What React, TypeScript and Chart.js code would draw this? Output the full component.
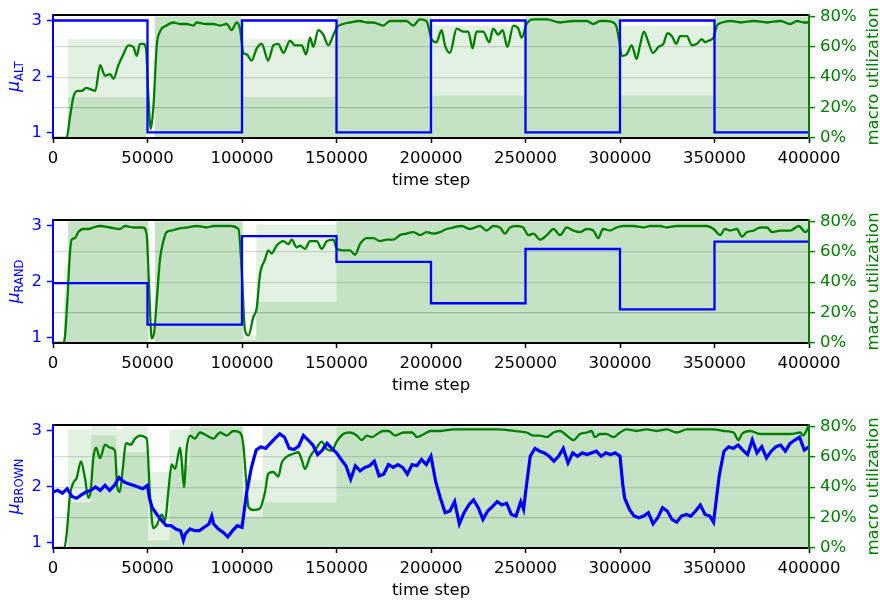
import React, { useEffect, useRef } from 'react';
import { Chart, registerables } from 'chart.js';

Chart.register(...registerables);

// ---------- tick labels ----------
const X_TICKS = [0, 50000, 100000, 150000, 200000, 250000, 300000, 350000, 400000];
const MU_TICKS = [1, 2, 3];
const UTIL_TICKS = [0, 0.2, 0.4, 0.6, 0.8];

// ---------- mu step series (one value per 50000-step segment) ----------
const SEGMENT_STARTS = [0, 50000, 100000, 150000, 200000, 250000, 300000, 350000];
const muAlt = [3, 1, 3, 1, 3, 1, 3, 1];
const muRand = [1.97, 1.23, 2.81, 2.35, 1.61, 2.58, 1.5, 2.71];

// ---------- mu brownian series [time step, mu] ----------
const muBrown: [number, number][] = [
  [0, 1.9], [2500, 1.93], [5000, 1.88], [7500, 1.96], [10000, 1.82], [12500, 1.79], [15000, 1.85], [17500, 1.9],
  [20000, 1.93], [22500, 1.99], [25000, 1.93], [27500, 2.02], [30000, 1.93], [32500, 2.02], [35000, 2.16], [37500, 2.08],
  [40000, 2.05], [42500, 2.02], [45000, 1.99], [47500, 1.96], [50000, 2.02], [51000, 1.79], [52500, 1.62], [55000, 1.5],
  [57500, 1.39], [60000, 1.3], [62500, 1.3], [65000, 1.24], [67500, 1.21], [69000, 1.04], [70000, 1.15], [72500, 1.24],
  [75000, 1.21], [77500, 1.21], [80000, 1.27], [82500, 1.33], [84000, 1.47], [85000, 1.33], [87500, 1.24], [90000, 1.18],
  [92500, 1.1], [95000, 1.21], [97500, 1.3], [100000, 1.27], [102500, 1.9], [105000, 2.34], [107500, 2.65], [110000, 2.71],
  [112500, 2.68], [115000, 2.77], [117500, 2.86], [120000, 2.94], [122500, 2.88], [125000, 2.68], [127500, 2.66], [130000, 2.72],
  [132500, 2.91], [135000, 2.83], [137500, 2.74], [140000, 2.57], [142500, 2.65], [145000, 2.77], [147500, 2.68], [150000, 2.6],
  [152500, 2.48], [155000, 2.37], [157500, 2.13], [160000, 2.37], [162500, 2.28], [165000, 2.34], [167500, 2.37], [170000, 2.45],
  [172500, 2.19], [175000, 2.22], [177500, 2.39], [180000, 2.34], [182500, 2.39], [185000, 2.34], [187500, 2.22], [190000, 2.39],
  [192500, 2.37], [195000, 2.48], [197500, 2.39], [200000, 2.54], [202500, 2.08], [205000, 1.79], [207500, 1.53], [210000, 1.56],
  [212500, 1.73], [215000, 1.33], [217500, 1.53], [220000, 1.67], [222500, 1.76], [225000, 1.62], [227500, 1.41], [230000, 1.56],
  [232500, 1.64], [235000, 1.73], [237500, 1.67], [240000, 1.7], [242500, 1.5], [245000, 1.47], [247500, 1.73], [249000, 1.59],
  [250000, 1.88], [252500, 2.54], [255000, 2.68], [257500, 2.63], [260000, 2.6], [262500, 2.54], [265000, 2.45], [267500, 2.54],
  [270000, 2.68], [272500, 2.42], [275000, 2.6], [277500, 2.54], [280000, 2.6], [282500, 2.57], [285000, 2.6], [287500, 2.63],
  [290000, 2.54], [292500, 2.6], [295000, 2.57], [297500, 2.6], [300000, 2.54], [301500, 2.02], [302500, 1.79], [305000, 1.59],
  [307500, 1.47], [310000, 1.44], [312500, 1.47], [315000, 1.53], [317500, 1.33], [320000, 1.44], [322500, 1.62], [325000, 1.56],
  [327500, 1.41], [330000, 1.36], [332500, 1.47], [335000, 1.5], [337500, 1.47], [340000, 1.56], [342500, 1.67], [345000, 1.5],
  [347500, 1.47], [349500, 1.36], [350000, 1.5], [352500, 2.19], [355000, 2.63], [357500, 2.71], [360000, 2.68], [362500, 2.74],
  [365000, 2.65], [367500, 2.57], [370000, 2.83], [372500, 2.6], [375000, 2.71], [377500, 2.51], [380000, 2.63], [382500, 2.71],
  [385000, 2.74], [387500, 2.63], [390000, 2.77], [392500, 2.83], [395000, 2.88], [397500, 2.65], [400000, 2.71],
];

// ---------- smoothed macro utilization [time step, fraction] ----------
const utilAlt: [number, number][] = [
  [0, 0], [7200, 0], [9000, 0.14], [10800, 0.27], [12900, 0.31], [15200, 0.31], [17500, 0.33], [20000, 0.32],
  [22400, 0.31], [24900, 0.48], [27500, 0.41], [30200, 0.42], [32000, 0.39], [34600, 0.48], [37200, 0.55], [39900, 0.61],
  [42500, 0.6], [44300, 0.54], [46000, 0.62], [47800, 0.62], [49200, 0.59], [50400, 0.29], [51700, 0.06], [53100, 0.2],
  [54900, 0.61], [56600, 0.7], [60100, 0.74], [63700, 0.76], [67200, 0.75], [70700, 0.75], [74300, 0.74], [76000, 0.76],
  [81300, 0.75], [84800, 0.75], [88400, 0.74], [91900, 0.75], [94500, 0.71], [97200, 0.76], [98900, 0.72], [100700, 0.56],
  [102500, 0.55], [105100, 0.51], [107800, 0.59], [110400, 0.62], [113900, 0.51], [116600, 0.61], [119200, 0.62], [121900, 0.56],
  [125400, 0.64], [128000, 0.61], [131600, 0.61], [133900, 0.55], [136000, 0.66], [137700, 0.6], [140400, 0.71], [143000, 0.68],
  [145700, 0.61], [148400, 0.68], [150400, 0.73], [153600, 0.75], [157100, 0.76], [162400, 0.77], [166000, 0.76], [169500, 0.76],
  [174700, 0.74], [178300, 0.77], [183400, 0.77], [187000, 0.77], [190600, 0.74], [194100, 0.78], [197600, 0.77], [200300, 0.65],
  [202900, 0.63], [205600, 0.71], [207400, 0.61], [210000, 0.56], [213600, 0.72], [217100, 0.7], [219700, 0.7], [222000, 0.59],
  [224100, 0.7], [227600, 0.7], [230800, 0.63], [232900, 0.72], [235600, 0.68], [237900, 0.71], [240400, 0.6], [243600, 0.74],
  [246200, 0.72], [248000, 0.66], [250600, 0.75], [254200, 0.78], [261300, 0.78], [268300, 0.76], [275300, 0.77], [282400, 0.77],
  [285900, 0.75], [289400, 0.77], [292800, 0.77], [296500, 0.76], [298200, 0.73], [299700, 0.63], [300900, 0.54], [303500, 0.55],
  [306200, 0.61], [308800, 0.52], [310600, 0.61], [312700, 0.7], [315000, 0.63], [317400, 0.56], [320400, 0.6], [323000, 0.62],
  [325100, 0.69], [327500, 0.67], [329800, 0.62], [331800, 0.67], [335400, 0.67], [338000, 0.61], [340700, 0.62], [343300, 0.65],
  [345100, 0.63], [346800, 0.64], [349500, 0.66], [351300, 0.74], [354000, 0.76], [358400, 0.77], [363700, 0.76], [370700, 0.77],
  [377800, 0.76], [384800, 0.77], [390100, 0.75], [393700, 0.77], [397200, 0.76], [400000, 0.76],
];

const utilRand: [number, number][] = [
  [0, 0], [5500, 0], [6300, 0.04], [7600, 0.28], [9000, 0.6], [9900, 0.68], [11600, 0.69], [13400, 0.73],
  [16000, 0.75], [18700, 0.75], [21300, 0.76], [24900, 0.77], [30200, 0.76], [35400, 0.75], [38100, 0.77], [42500, 0.76],
  [47800, 0.76], [49600, 0.71], [50800, 0.38], [52200, 0.03], [53400, 0.06], [54900, 0.28], [56600, 0.55], [58400, 0.67],
  [60100, 0.73], [62800, 0.74], [65400, 0.75], [70700, 0.76], [76000, 0.77], [81300, 0.76], [84800, 0.77], [88400, 0.77],
  [93700, 0.77], [98100, 0.75], [99800, 0.49], [101600, 0.08], [103400, 0.05], [106000, 0.17], [107800, 0.23], [109500, 0.45],
  [112200, 0.55], [113900, 0.61], [115700, 0.59], [118300, 0.64], [121900, 0.67], [124500, 0.65], [126300, 0.68], [128900, 0.63],
  [130700, 0.64], [133300, 0.62], [136000, 0.67], [139500, 0.67], [142200, 0.62], [144800, 0.67], [148400, 0.68], [150100, 0.62],
  [153600, 0.61], [157100, 0.61], [159800, 0.58], [162400, 0.65], [166000, 0.69], [169500, 0.69], [173000, 0.67], [176600, 0.68],
  [180100, 0.68], [183600, 0.71], [187100, 0.72], [190600, 0.73], [194200, 0.71], [197700, 0.73], [201200, 0.72], [204800, 0.73],
  [208300, 0.75], [211800, 0.76], [216200, 0.77], [220600, 0.75], [225900, 0.77], [229400, 0.74], [232900, 0.77], [236500, 0.76],
  [239100, 0.72], [241800, 0.76], [245300, 0.77], [248800, 0.76], [251500, 0.71], [254200, 0.72], [257700, 0.68], [261300, 0.71],
  [264800, 0.75], [268300, 0.71], [271800, 0.76], [275400, 0.74], [278900, 0.73], [282400, 0.75], [285900, 0.74], [288500, 0.69],
  [291000, 0.75], [294700, 0.74], [298200, 0.76], [301700, 0.77], [307100, 0.77], [312400, 0.76], [315900, 0.77], [321200, 0.77],
  [324700, 0.76], [330000, 0.77], [335300, 0.77], [340600, 0.77], [345900, 0.77], [349500, 0.75], [353000, 0.71], [355600, 0.75],
  [358300, 0.74], [361800, 0.75], [364500, 0.7], [367200, 0.73], [370700, 0.74], [374200, 0.76], [377800, 0.76], [380400, 0.73],
  [384800, 0.74], [390100, 0.74], [394600, 0.77], [398100, 0.73], [400000, 0.75],
];

const utilBrown: [number, number][] = [
  [0, 0], [6000, 0], [7200, 0.09], [9000, 0.35], [10800, 0.43], [12500, 0.46], [14800, 0.57], [16900, 0.46],
  [18700, 0.33], [19900, 0.37], [21300, 0.59], [22800, 0.66], [24900, 0.59], [27500, 0.68], [30200, 0.66], [32800, 0.64],
  [34000, 0.4], [35400, 0.37], [36900, 0.52], [38600, 0.69], [41100, 0.68], [43400, 0.72], [46000, 0.74], [49600, 0.72],
  [51300, 0.35], [53100, 0.13], [54900, 0.15], [57500, 0.22], [59300, 0.18], [61000, 0.37], [62800, 0.55], [64600, 0.52],
  [67200, 0.66], [68100, 0.57], [69300, 0.4], [70700, 0.65], [72500, 0.74], [75100, 0.72], [77800, 0.76], [81300, 0.74],
  [84800, 0.72], [88400, 0.76], [91900, 0.74], [95400, 0.77], [98900, 0.76], [100700, 0.68], [102100, 0.46], [103400, 0.27],
  [106000, 0.25], [109500, 0.26], [112200, 0.37], [113900, 0.49], [116600, 0.5], [119200, 0.47], [121000, 0.56], [123600, 0.6],
  [127200, 0.62], [129800, 0.63], [131600, 0.58], [133300, 0.52], [136000, 0.6], [139500, 0.66], [142200, 0.7], [144800, 0.65],
  [147500, 0.64], [150100, 0.7], [153600, 0.75], [157100, 0.76], [160700, 0.74], [163300, 0.71], [166000, 0.74], [168700, 0.73],
  [171500, 0.75], [174600, 0.77], [177600, 0.77], [181000, 0.74], [185500, 0.76], [190000, 0.76], [192600, 0.73], [196300, 0.75],
  [199700, 0.77], [205000, 0.77], [212200, 0.78], [219200, 0.78], [226200, 0.78], [235000, 0.78], [243900, 0.77], [250600, 0.76],
  [254200, 0.74], [257700, 0.74], [261300, 0.73], [264800, 0.76], [268300, 0.77], [271800, 0.74], [275400, 0.71], [278900, 0.75],
  [282400, 0.76], [285000, 0.77], [286700, 0.73], [289400, 0.75], [292800, 0.75], [296500, 0.73], [300000, 0.76], [303500, 0.78],
  [308800, 0.77], [314100, 0.78], [319400, 0.77], [324700, 0.78], [330000, 0.76], [335400, 0.78], [342400, 0.78], [349500, 0.78],
  [354800, 0.77], [360100, 0.76], [362700, 0.71], [364500, 0.75], [368900, 0.77], [374200, 0.75], [379500, 0.75], [384800, 0.75],
  [390100, 0.75], [395400, 0.76], [396800, 0.74], [398900, 0.78], [400000, 0.82],
];

// ---------- raw utilization envelope (dense band and faint band), [time step, fraction] ----------
const rawAltDense: [number, number][] = [
  [0, 0], [7900, 0.27], [49400, 0], [53800, 0.8], [99700, 0.27], [150000, 0.8],
  [200000, 0.28], [250000, 0.8], [300000, 0.28], [350000, 0.8], [400000, 0.8],
];
const rawAltFaint: [number, number][] = [
  [0, 0], [7900, 0.65], [49400, 0], [53800, 0.8], [99700, 0.65], [150000, 0.8],
  [200000, 0.74], [250000, 0.8], [300000, 0.74], [350000, 0.8], [400000, 0.8],
];
const rawRandDense: [number, number][] = [
  [0, 0], [6000, 0.3], [8000, 0.8], [50500, 0], [54000, 0.8], [100400, 0.02], [107500, 0.27],
  [150000, 0.8], [400000, 0.8],
];
const rawRandFaint: [number, number][] = [
  [0, 0], [6000, 0.5], [8000, 0.8], [50500, 0], [54000, 0.8], [100400, 0.05], [107500, 0.78],
  [150000, 0.8], [400000, 0.8],
];
const rawBrownDense: [number, number][] = [
  [0, 0], [7900, 0.3], [20300, 0.74], [33500, 0.4], [37000, 0.63], [50300, 0.05], [61700, 0.55],
  [72300, 0.8], [100500, 0.2], [111000, 0.3], [150000, 0.8], [400000, 0.8],
];
const rawBrownFaint: [number, number][] = [
  [0, 0], [7900, 0.78], [20300, 0.8], [33500, 0.78], [37000, 0.8], [50300, 0.5], [61700, 0.78],
  [72300, 0.8], [100500, 0.45], [111000, 0.8], [150000, 0.8], [400000, 0.8],
];

// ---------- styling ----------
const FONT = 'DejaVu Sans';
const FS = 16.5;
const BLUE = '#0000ff';
const GREEN = '#008000';
const CANVAS_W = 880;

const toPts = (arr: [number, number][]) => arr.map(([x, y]) => ({ x, y }));
const stepPts = (vals: number[]) => {
  const pts = SEGMENT_STARTS.map((s, i) => ({ x: s, y: vals[i] }));
  pts.push({ x: 400000, y: vals[vals.length - 1] });
  return pts;
};

type PanelDef = {
  sub: string;
  mu: { x: number; y: number }[];
  muStepped: boolean;
  muWidth: number;
  util: [number, number][];
  dense: [number, number][];
  faint: [number, number][];
  top: number;
  height: number;
};

const PANELS: PanelDef[] = [
  { sub: 'ALT', mu: stepPts(muAlt), muStepped: true, muWidth: 2.3, util: utilAlt, dense: rawAltDense, faint: rawAltFaint, top: 0, height: 205 },
  { sub: 'RAND', mu: stepPts(muRand), muStepped: true, muWidth: 2.3, util: utilRand, dense: rawRandDense, faint: rawRandFaint, top: 205, height: 205 },
  { sub: 'BROWN', mu: toPts(muBrown), muStepped: false, muWidth: 3.2, util: utilBrown, dense: rawBrownDense, faint: rawBrownFaint, top: 410, height: 194 },
];

function makeDecor(sub: string) {
  return {
    id: 'decor',
    afterDraw(chart: any) {
      const { ctx, chartArea: a } = chart;
      const cy = (a.top + a.bottom) / 2;
      ctx.save();
      ctx.lineWidth = 2;
      ctx.lineCap = 'square';
      const seg = (x1: number, y1: number, x2: number, y2: number, c: string) => {
        ctx.strokeStyle = c;
        ctx.beginPath();
        ctx.moveTo(x1, y1);
        ctx.lineTo(x2, y2);
        ctx.stroke();
      };
      seg(a.left, a.top, a.right, a.top, '#000');
      seg(a.left, a.bottom, a.right, a.bottom, '#000');
      seg(a.left, a.top, a.left, a.bottom, BLUE);
      seg(a.right, a.top, a.right, a.bottom, GREEN);

      // x tick labels, placed at the x scale's own tick pixels
      const xs = chart.scales.x;
      ctx.fillStyle = '#000';
      ctx.font = `${FS}px "${FONT}"`;
      ctx.textAlign = 'center';
      ctx.textBaseline = 'alphabetic';
      xs.ticks.forEach((t: any) => {
        ctx.fillText(String(t.value), xs.getPixelForValue(t.value), a.bottom + 25);
      });

      // x title
      ctx.fillText('time step', (a.left + a.right) / 2, a.bottom + 47);

      // right title
      ctx.save();
      ctx.translate(878, cy);
      ctx.rotate(-Math.PI / 2);
      ctx.fillStyle = GREEN;
      ctx.textAlign = 'center';
      ctx.fillText('macro utilization', 0, 0);
      ctx.restore();

      // left title: mu with subscript
      ctx.save();
      ctx.translate(19, cy);
      ctx.rotate(-Math.PI / 2);
      ctx.fillStyle = BLUE;
      ctx.textAlign = 'left';
      const muFont = `italic 17px "${FONT}"`;
      const subFont = `11.5px "${FONT}"`;
      ctx.font = muFont;
      const w1 = ctx.measureText('μ').width;
      ctx.font = subFont;
      const w2 = ctx.measureText(sub).width;
      const start = -(w1 + w2) / 2;
      ctx.font = muFont;
      ctx.fillText('μ', start, 0);
      ctx.font = subFont;
      ctx.fillText(sub, start + w1, 3.5);
      ctx.restore();

      ctx.restore();
    },
  };
}

function Panel({ def }: { def: PanelDef }) {
  const ref = useRef<HTMLCanvasElement | null>(null);
  useEffect(() => {
    if (!ref.current) return;
    const H = def.height;
    const chart = new Chart(ref.current, {
      type: 'line',
      data: {
        datasets: [
          {
            data: def.mu,
            yAxisID: 'y',
            borderColor: BLUE,
            borderWidth: def.muWidth,
            pointRadius: 0,
            stepped: def.muStepped ? 'before' : false,
            fill: false,
            order: 0,
          },
          {
            data: toPts(def.util),
            yAxisID: 'y1',
            borderColor: GREEN,
            borderWidth: 2.3,
            pointRadius: 0,
            cubicInterpolationMode: 'monotone',
            fill: false,
            order: 1,
          },
          {
            data: toPts(def.dense),
            yAxisID: 'y1',
            borderWidth: 0,
            borderColor: 'rgba(0,0,0,0)',
            backgroundColor: 'rgba(0,128,0,0.135)',
            pointRadius: 0,
            stepped: 'before',
            fill: 'origin',
            order: 2,
          },
          {
            data: toPts(def.faint),
            yAxisID: 'y1',
            borderWidth: 0,
            borderColor: 'rgba(0,0,0,0)',
            backgroundColor: 'rgba(0,128,0,0.11)',
            pointRadius: 0,
            stepped: 'before',
            fill: 'origin',
            order: 3,
          },
        ] as any,
      },
      options: {
        animation: false,
        responsive: false,
        events: [],
        layout: { padding: { top: 12, left: 0, right: 0, bottom: 0 } },
        plugins: { legend: { display: false }, tooltip: { enabled: false } },
        scales: {
          x: {
            type: 'linear',
            min: 0,
            max: 400000,
            afterBuildTicks: (s: any) => { s.ticks = X_TICKS.map((v) => ({ value: v })); },
            afterFit: (s: any) => { s.height = H - 138; },
            ticks: { display: false, autoSkip: false, maxRotation: 0 },
            grid: { drawOnChartArea: false, drawTicks: true, tickLength: 5, tickColor: '#000', tickWidth: 1.5 },
            border: { display: false },
          },
          y: {
            type: 'linear',
            position: 'left',
            min: 0.9,
            max: 3.1,
            afterBuildTicks: (s: any) => { s.ticks = MU_TICKS.map((v) => ({ value: v })); },
            afterFit: (s: any) => { s.width = 53; },
            ticks: { color: BLUE, font: { family: FONT, size: FS }, padding: 5, callback: (v: any) => String(v) },
            grid: { drawOnChartArea: false, tickLength: 6, tickColor: BLUE, tickWidth: 1.5 },
            border: { display: false },
          },
          y1: {
            type: 'linear',
            position: 'right',
            min: 0,
            max: 0.81,
            afterBuildTicks: (s: any) => { s.ticks = UTIL_TICKS.map((v) => ({ value: v })); },
            afterFit: (s: any) => { s.width = CANVAS_W - 809; },
            ticks: {
              color: GREEN,
              font: { family: FONT, size: FS },
              padding: 5,
              callback: (v: any) => `${Math.round(Number(v) * 100)}%`,
            },
            grid: {
              drawOnChartArea: true,
              color: (c: any) => {
                const v = c.tick ? Math.round(c.tick.value * 100) : -1;
                if (v === 20) return 'rgba(0,0,0,0.22)';
                if (v === 40 || v === 60) return 'rgba(0,0,0,0.15)';
                return 'rgba(0,0,0,0)';
              },
              lineWidth: 1.2,
              tickColor: GREEN,
              tickLength: 6,
              tickWidth: 1.5,
            },
            border: { display: false },
          },
        },
      } as any,
      plugins: [makeDecor(def.sub)],
    });
    return () => chart.destroy();
  }, [def]);
  return (
    <div style={{ position: 'absolute', left: 0, top: def.top, width: CANVAS_W, height: def.height }}>
      <canvas ref={ref} width={CANVAS_W} height={def.height} style={{ display: 'block', width: CANVAS_W, height: def.height }} />
    </div>
  );
}

export default function App() {
  return (
    <div style={{ position: 'absolute', left: 0, top: 0, width: CANVAS_W, height: 604, background: '#fff', overflow: 'hidden' }}>
      {PANELS.map((p) => (
        <Panel key={p.sub} def={p} />
      ))}
    </div>
  );
}
